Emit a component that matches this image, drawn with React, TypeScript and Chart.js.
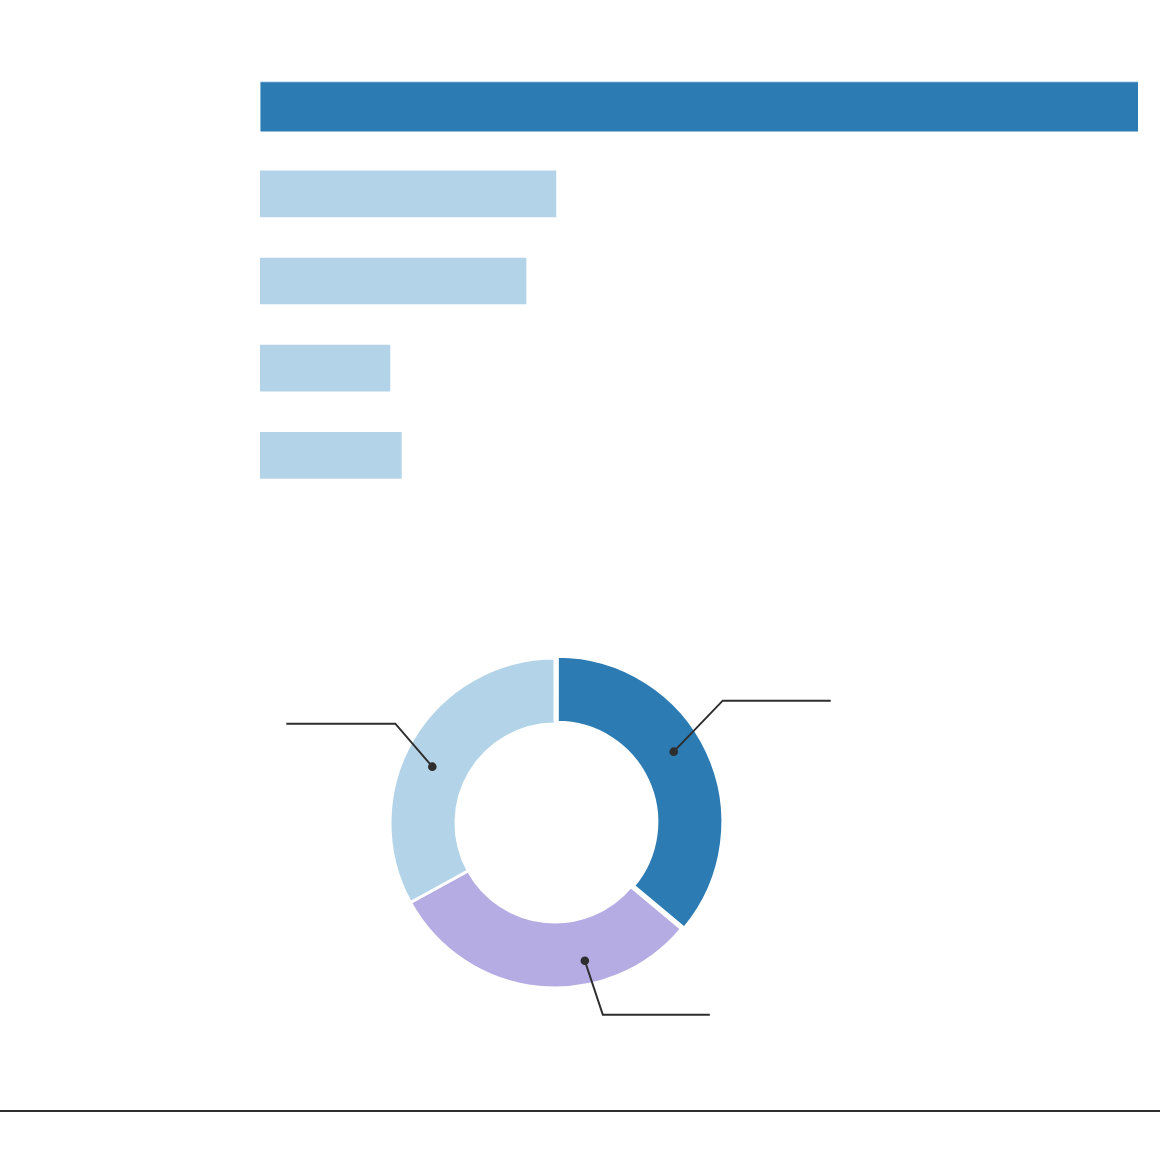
import React, { useEffect, useRef } from "react";
import { Chart, registerables } from "chart.js";

Chart.register(...registerables);

// ---- Data ----
const barCategories = ["Item 1", "Item 2", "Item 3", "Item 4", "Item 5"];
const barValues = [100, 33.7, 30.3, 14.8, 16.1];
const highlightIndex = 0;

const donutLabels = ["Segment A", "Segment B", "Segment C"];
const donutValues = [36.1, 30.9, 33.0];

// ---- Styles ----
const DARK = "#2c7bb3";
const LIGHT = "#b3d4e8";
const PURPLE = "#b4ace3";
const INK = "#2e2e2e";

// callout styling per slice: where the dot sits inside the slice and how the leader runs
const calloutStyles = [
  { frac: 0.454, r: 138.5, dx: 49, dy: -51, run: 108 },
  { frac: 0.34, r: 141, dx: 18, dy: 54, run: 107 },
  { frac: 0.45, r: 135, dx: -37, dy: -43, run: -109 },
];

const calloutPlugin = {
  id: "callouts",
  afterDatasetsDraw(chart: any) {
    const meta = chart.getDatasetMeta(0);
    const ctx = chart.ctx;
    ctx.save();
    meta.data.forEach((arc: any, i: number) => {
      const st = calloutStyles[i];
      if (!st) return;
      const { x, y, startAngle, endAngle } = arc.getProps(
        ["x", "y", "startAngle", "endAngle"],
        true
      );
      const a = startAngle + st.frac * (endAngle - startAngle);
      const px = x + Math.cos(a) * st.r;
      const py = y + Math.sin(a) * st.r;
      const ex = px + st.dx;
      const ey = py + st.dy;
      ctx.strokeStyle = INK;
      ctx.lineWidth = 2;
      ctx.beginPath();
      ctx.moveTo(px, py);
      ctx.lineTo(ex, ey);
      ctx.lineTo(ex + st.run, ey);
      ctx.stroke();
      ctx.fillStyle = INK;
      ctx.beginPath();
      ctx.arc(px, py, 4.3, 0, Math.PI * 2);
      ctx.fill();
    });
    ctx.restore();
  },
};

export default function App() {
  const barRef = useRef<HTMLCanvasElement | null>(null);
  const donutRef = useRef<HTMLCanvasElement | null>(null);

  useEffect(() => {
    if (!barRef.current || !donutRef.current) return;

    const highlightData = barValues.map((v, i) => (i === highlightIndex ? v : null));
    const restData = barValues.map((v, i) => (i === highlightIndex ? null : v));

    const bar = new Chart(barRef.current, {
      type: "bar",
      data: {
        labels: barCategories,
        datasets: [
          {
            data: highlightData,
            backgroundColor: DARK,
            borderColor: LIGHT,
            borderWidth: { top: 1, left: 1, right: 0, bottom: 0 },
            borderSkipped: false,
            barThickness: 50,
            grouped: false,
          } as any,
          {
            data: restData,
            backgroundColor: LIGHT,
            borderWidth: 0,
            barThickness: 46,
            grouped: false,
          } as any,
        ],
      },
      options: {
        indexAxis: "y",
        responsive: false,
        animation: false,
        devicePixelRatio: 1,
        events: [],
        layout: { padding: { left: 260, right: 22, top: 63, bottom: 61 } },
        plugins: { legend: { display: false }, tooltip: { enabled: false } },
        scales: {
          x: { display: false, min: 0, max: 100 },
          y: { display: false },
        },
      },
    });

    const donut = new Chart(donutRef.current, {
      type: "doughnut",
      data: {
        labels: donutLabels,
        datasets: [
          {
            data: donutValues,
            backgroundColor: [DARK, PURPLE, LIGHT],
            borderColor: "#ffffff",
            borderWidth: 3,
            offset: [10, 0, 0],
          } as any,
        ],
      },
      options: {
        responsive: false,
        animation: false,
        devicePixelRatio: 1,
        events: [],
        radius: 165,
        cutout: "60%",
        layout: { padding: { left: 355, right: 405, top: 63, bottom: 137 } },
        plugins: { legend: { display: false }, tooltip: { enabled: false } },
      } as any,
      plugins: [calloutPlugin],
    });

    return () => {
      bar.destroy();
      donut.destroy();
    };
  }, []);

  return (
    <div
      style={{
        position: "absolute",
        left: 0,
        top: 0,
        width: 1160,
        height: 1160,
        background: "#ffffff",
        overflow: "hidden",
      }}
    >
      <canvas
        ref={barRef}
        width={1160}
        height={560}
        style={{ position: "absolute", left: 0, top: 0, width: 1160, height: 560 }}
      />
      <canvas
        ref={donutRef}
        width={1160}
        height={600}
        style={{ position: "absolute", left: 0, top: 560, width: 1160, height: 600 }}
      />
      <div
        style={{
          position: "absolute",
          left: 0,
          top: 1110,
          width: 1160,
          height: 2,
          background: INK,
        }}
      />
    </div>
  );
}
